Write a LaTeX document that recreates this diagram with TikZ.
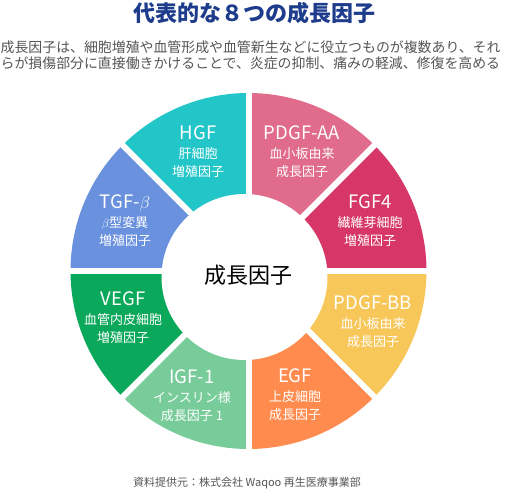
\documentclass[tikz,border=0pt]{standalone}
\usepackage{fontspec}
\setmainfont{Noto Sans CJK JP}
\definecolor{cTitle}{HTML}{1E3C8C}
\definecolor{cText}{HTML}{555555}
\definecolor{cHGF}{HTML}{23C6C8}
\definecolor{cPDGFAA}{HTML}{E06B8B}
\definecolor{cFGF}{HTML}{D73668}
\definecolor{cPDGFBB}{HTML}{F7C75A}
\definecolor{cEGF}{HTML}{FF8C4E}
\definecolor{cIGF}{HTML}{78CC9A}
\definecolor{cVEGF}{HTML}{0AA85A}
\definecolor{cTGF}{HTML}{6A91DE}
\newcommand{\gfname}[1]{{\fontsize{18.5}{18}\selectfont #1}\\[1pt]}
\begin{document}
\begin{tikzpicture}[x=1pt,y=-1pt,
  seglabel/.style={text=white,align=center,inner sep=0pt,
    font=\fontsize{13}{18}\selectfont}]
\useasboundingbox (0,0) rectangle (506,491);
\coordinate (c) at (248.5,271);
% eight ring segments, clockwise from the top
\foreach \a/\col in {-90/cPDGFAA,-45/cFGF,0/cPDGFBB,45/cEGF,
                     90/cIGF,135/cVEGF,180/cTGF,225/cHGF}{
  \fill[\col] (c) -- ++(\a:178) arc[start angle=\a,end angle=\a+45,radius=178]
    -- cycle;}
% white gaps between segments
\foreach \a in {0,45,...,315}
  \draw[white,line width=6] (c) -- ++(\a:185);
\fill[white] (244.5,277) circle (83);
\node[font=\fontsize{22}{22}\selectfont] (centre) at (248,275) {成長因子};
% segment labels
\node[seglabel] (pdgfaa) at (302,152) {\gfname{PDGF-AA}血小板由来\\成長因子};
\node[seglabel] (fgf) at (370,221) {\gfname{FGF4}繊維芽細胞\\増殖因子};
\node[seglabel] (pdgfbb) at (373,322) {\gfname{PDGF-BB}血小板由来\\成長因子};
\node[seglabel] (egf) at (295,395) {\gfname{EGF}上皮細胞\\成長因子};
\node[seglabel] (igf) at (192,396) {\gfname{IGF-1}インスリン様\\成長因子 1};
\node[seglabel] (vegf) at (123,318) {\gfname{VEGF}血管内皮細胞\\増殖因子};
\node[seglabel] (tgf) at (125,221) {\gfname{TGF-$\beta$}$\beta$型変異\\増殖因子};
\node[seglabel] (hgf) at (198,152) {\gfname{HGF}肝細胞\\増殖因子};
% title, lead text and source
\node[font=\fontsize{22}{22}\selectfont\bfseries,text=cTitle] (title)
  at (254.5,13) {代表的な８つの成長因子};
\node[anchor=west,align=left,inner sep=0pt,text=cText,
  font=\fontsize{13.9}{16}\selectfont] (lead) at (0.5,55)
  {成長因子は、細胞増殖や血管形成や血管新生などに役立つものが複数あり、それ\\
   らが損傷部分に直接働きかけることで、炎症の抑制、痛みの軽減、修復を高める};
\node[font=\fontsize{11}{11}\selectfont,text=cText] (source) at (247,483)
  {資料提供元：株式会社 Waqoo 再生医療事業部};
\end{tikzpicture}
\end{document}
